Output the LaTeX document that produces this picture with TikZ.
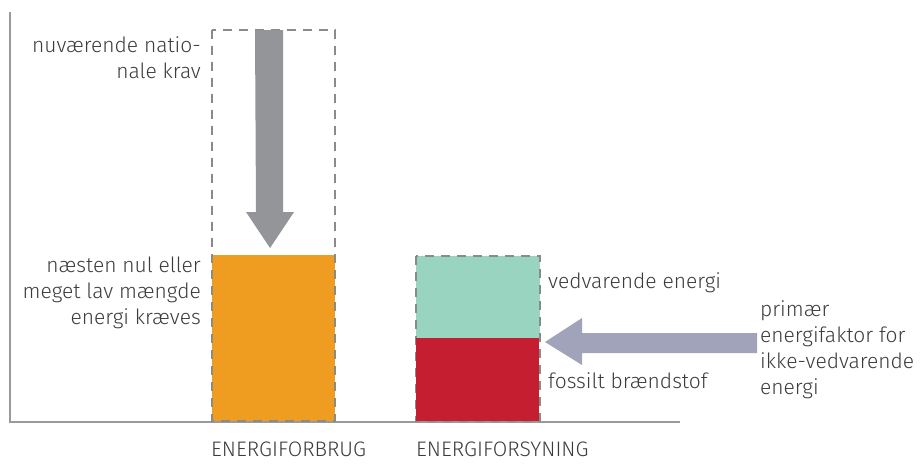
\documentclass[tikz,border=0pt]{standalone}
\usepackage{fontspec}
\setmainfont{Fira Sans}[UprightFont=* Light]
\usetikzlibrary{arrows.meta}
\definecolor{txt}{HTML}{3C3C3C}
\definecolor{axisgray}{HTML}{9A9A9A}
\definecolor{dashgray}{HTML}{8A8A8A}
\definecolor{arrgray}{HTML}{939598}
\definecolor{orangefill}{HTML}{EE9D20}
\definecolor{tealfill}{HTML}{98D4C0}
\definecolor{redfill}{HTML}{C41E30}
\definecolor{purplearr}{HTML}{A0A3BA}
\begin{document}
\begin{tikzpicture}[x=1pt,y=-1pt,
  lbl/.style={text=txt,font=\fontsize{21}{26}\selectfont,inner sep=0pt},
  dashbox/.style={draw=dashgray,line width=2.2pt,dash pattern=on 9pt off 7pt}]
\useasboundingbox (0,0) rectangle (920,463);
% axes
\coordinate (ytop) at (10,12);
\coordinate (origin) at (10,422);
\coordinate (xend) at (680,422);
\draw[axisgray,line width=1.6pt] (ytop) -- (origin) -- (xend);
% box 1
\fill[orangefill] (212,255) rectangle (335,421);
\draw[dashbox] (212,30) rectangle (335,421);
% gray down arrow
\fill[arrgray] (255,30) -- (283,30) -- (283,212) -- (294,212) -- (270,248) -- (246,212) -- (256,212) -- cycle;
% box 2
\fill[tealfill] (416,256) rectangle (540,338);
\draw[dashbox] (416,256) rectangle (540,421);
\fill[redfill] (416,338) rectangle (539,421);
% purple arrow
\fill[purplearr] (757,333) -- (582,333) -- (582,318) -- (545,342) -- (582,365) -- (582,353) -- (757,353) -- cycle;
% labels
\node[lbl,align=right,anchor=north east] (t1) at (201,36) {nuværende natio-\\nale krav};
\node[lbl,align=right,anchor=north east] (t2) at (201,257) {næsten nul eller\\meget lav mængde\\energi kræves};
\node[lbl,anchor=west] (t3) at (548,283) {vedvarende energi};
\node[lbl,anchor=west] (t4) at (548,381) {fossilt brændstof};
\node[lbl,align=left,anchor=north west] (t5) at (760,300) {primær\\energifaktor for\\ikke-vedvarende\\energi};
\node[lbl,anchor=west] (t6) at (211,449) {ENERGIFORBRUG};
\node[lbl,anchor=west] (t7) at (416,449) {ENERGIFORSYNING};
\end{tikzpicture}
\end{document}
